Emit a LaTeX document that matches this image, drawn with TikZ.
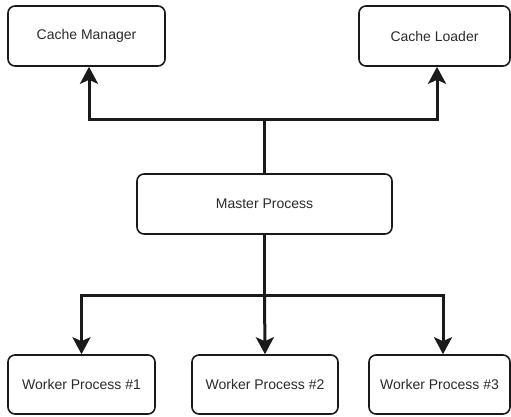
\documentclass[tikz,border=0pt]{standalone}
\usepackage{fontspec}
\setmainfont{Liberation Sans}
\usepackage{xcolor}
\usepackage{tikz}
\usetikzlibrary{arrows.meta}
\definecolor{ink}{HTML}{1A1A1A}
\definecolor{label}{HTML}{2B2B2B}
\tikzset{
  procbox/.style={draw=ink, line width=1.6pt, rounded corners=7pt, fill=white,
    minimum height=60pt, inner sep=0pt, text=label, font=\fontsize{14}{16}\selectfont},
  wire/.style={draw=ink, line width=3pt},
  arrowwire/.style={wire, -{Stealth[length=17pt,width=18pt,inset=4pt]}},
}

\begin{document}
\begin{tikzpicture}[x=1pt,y=-1pt]
\useasboundingbox (0,0) rectangle (511,416);
% Cache processes
\node[procbox, minimum width=157pt] (manager) at (86.5,36) {Cache Manager};
\node[procbox, minimum width=151pt] (loader) at (434.5,36) {Cache Loader};

% Master
\node[procbox, minimum width=255pt] (master) at (264.5,204) {Master Process};
\coordinate (up) at (264.5,119);
\coordinate (down) at (264.5,295);

% Workers
\node[procbox, minimum width=147pt, minimum height=59pt] (worker1) at (81.5,384.5) {Worker Process \#1};
\node[procbox, minimum width=146pt, minimum height=59pt] (worker2) at (265,384.5) {Worker Process \#2};
\node[procbox, minimum width=141pt, minimum height=59pt] (worker3) at (439.5,384.5) {Worker Process \#3};

% Connectors
\draw[wire] (master.north) -- (up);
\draw[arrowwire] (up) -| ([xshift=2.5pt]manager.south);
\draw[arrowwire] (up) -| ([xshift=2.5pt]loader.south);
\draw[wire] (master.south) -- (down);
\draw[arrowwire] (down) -| (worker1.north);
\draw[arrowwire] (down) -- (worker2.north);
\draw[arrowwire] (down) -| ([xshift=3.5pt]worker3.north);
\end{tikzpicture}
\end{document}
